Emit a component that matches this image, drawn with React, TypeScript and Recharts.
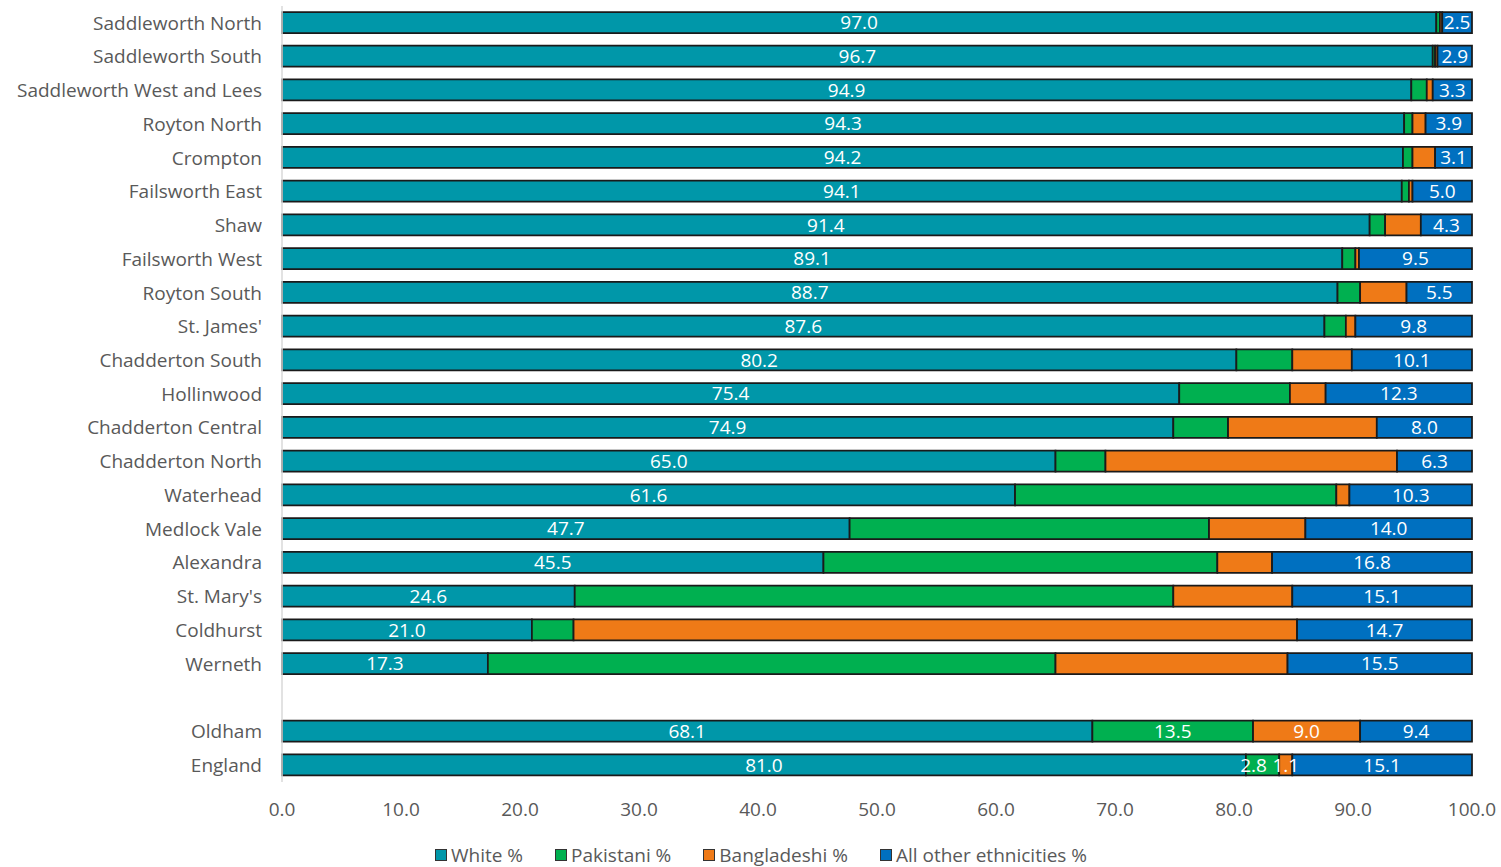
import React from 'react';
import { BarChart, Bar, XAxis, YAxis, LabelList, Legend } from 'recharts';

const categories = [
  'Saddleworth North', 'Saddleworth South', 'Saddleworth West and Lees', 'Royton North', 'Crompton',
  'Failsworth East', 'Shaw', 'Failsworth West', 'Royton South', "St. James'",
  'Chadderton South', 'Hollinwood', 'Chadderton Central', 'Chadderton North', 'Waterhead',
  'Medlock Vale', 'Alexandra', "St. Mary's", 'Coldhurst', 'Werneth', ' ', 'Oldham', 'England',
];
const whitePct = [97.0, 96.7, 94.9, 94.3, 94.2, 94.1, 91.4, 89.1, 88.7, 87.6, 80.2, 75.4, 74.9, 65.0, 61.6, 47.7, 45.5, 24.6, 21.0, 17.3, null, 68.1, 81.0];
const pakistaniPct = [0.3, 0.2, 1.3, 0.7, 0.8, 0.6, 1.3, 1.1, 1.9, 1.8, 4.7, 9.3, 4.6, 4.2, 27.0, 30.2, 33.1, 50.3, 3.5, 47.7, null, 13.5, 2.8];
const bangladeshiPct = [0.2, 0.2, 0.5, 1.1, 1.9, 0.3, 3.0, 0.3, 3.9, 0.8, 5.0, 3.0, 12.5, 24.5, 1.1, 8.1, 4.6, 10.0, 60.8, 19.5, null, 9.0, 1.1];
const otherPct = [2.5, 2.9, 3.3, 3.9, 3.1, 5.0, 4.3, 9.5, 5.5, 9.8, 10.1, 12.3, 8.0, 6.3, 10.3, 14.0, 16.8, 15.1, 14.7, 15.5, null, 9.4, 15.1];
const fullyLabelledRows = ['Oldham', 'England'];
const xTicks = [0, 10, 20, 30, 40, 50, 60, 70, 80, 90, 100];

const series = [
  { key: 'white', name: 'White %', color: '#0097A9' },
  { key: 'pakistani', name: 'Pakistani %', color: '#00B050' },
  { key: 'bangladeshi', name: 'Bangladeshi %', color: '#EF7A17' },
  { key: 'other', name: 'All other ethnicities %', color: '#0070C0' },
];

const data = categories.map((name, i) => {
  const full = fullyLabelledRows.includes(name);
  return {
    name,
    white: whitePct[i],
    pakistani: pakistaniPct[i],
    bangladeshi: bangladeshiPct[i],
    other: otherPct[i],
    whiteLabel: whitePct[i],
    pakistaniLabel: full ? pakistaniPct[i] : null,
    bangladeshiLabel: full ? bangladeshiPct[i] : null,
    otherLabel: otherPct[i],
  };
});

const FONT = '"Open Sans", "Noto Sans", sans-serif';
const FS = 19;
const fmt = (v: any) => (v == null ? '' : Number(v).toFixed(1));

// Label centred in its segment; a label wider than a narrow segment leans left so it does not run into the next one.
const SegmentLabel = (props: any) => {
  const vb = props.viewBox && props.viewBox.width != null ? props.viewBox : props;
  const { x, y, width, height } = vb;
  const value = props.value;
  if (value == null || value === '' || x == null) return null;
  const shift = width < 40 ? 9 : 0;
  return (
    <text
      x={x + width / 2 - shift}
      y={y + height / 2}
      textAnchor="middle"
      dominantBaseline="central"
      fill="#FFFFFF"
      style={{ fontSize: FS, fontFamily: FONT }}
    >
      {fmt(value)}
    </text>
  );
};

const LegendContent = () => (
  <div style={{ display: 'flex', alignItems: 'center', paddingLeft: 435, fontFamily: FONT, fontSize: FS, color: '#595959', lineHeight: '24px' }}>
    {series.map((s) => (
      <div key={s.key} style={{ display: 'flex', alignItems: 'center', marginRight: 32 }}>
        <span style={{ display: 'inline-block', width: 10, height: 10, background: s.color, border: '1.5px solid #333', marginRight: 4 }} />
        <span>{s.name}</span>
      </div>
    ))}
  </div>
);

export default function App() {
  return (
    <div style={{ position: 'absolute', left: 0, top: 0, background: '#fff' }}>
      <BarChart
        width={1501}
        height={867}
        data={data}
        layout="vertical"
        margin={{ top: 6, right: 29, left: 0, bottom: 21 }}
        barSize={21}
      >
        <XAxis
          type="number"
          domain={[0, 100]}
          ticks={xTicks}
          tickFormatter={fmt}
          axisLine={false}
          tickLine={false}
          tickSize={0}
          tickMargin={21}
          height={40}
          tick={{ fill: '#595959', fontSize: FS, fontFamily: FONT }}
        />
        <YAxis
          type="category"
          dataKey="name"
          width={282}
          interval={0}
          tickLine={false}
          tickSize={0}
          tickMargin={20}
          axisLine={{ stroke: '#D9D9D9', strokeWidth: 1.5 }}
          tick={{ fill: '#595959', fontSize: FS, fontFamily: FONT }}
        />
        <Legend verticalAlign="bottom" content={<LegendContent />} wrapperStyle={{ bottom: 0 }} />
        {series.map((s) => (
          <Bar
            key={s.key}
            dataKey={s.key}
            name={s.name}
            stackId="a"
            fill={s.color}
            stroke="#1A1A1A"
            strokeWidth={1.75}
            isAnimationActive={false}
          >
            {s.key === 'pakistani' ? (
              <LabelList dataKey={`${s.key}Label`} content={SegmentLabel} />
            ) : (
              <LabelList
                dataKey={`${s.key}Label`}
                position="center"
                formatter={fmt}
                fill="#FFFFFF"
                style={{ fontSize: FS, fontFamily: FONT }}
              />
            )}
          </Bar>
        ))}
      </BarChart>
    </div>
  );
}
